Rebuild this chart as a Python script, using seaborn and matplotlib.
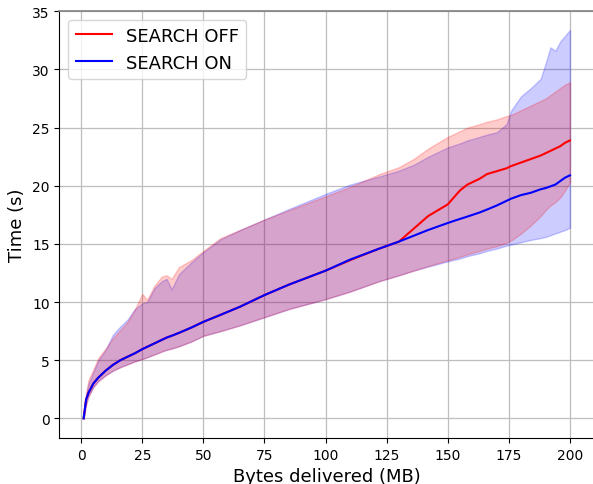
import numpy as np
import pandas as pd
import matplotlib
matplotlib.use("Agg")
import matplotlib.pyplot as plt
import seaborn as sns

x_mb = [1, 2, 3, 5, 7, 10, 13, 16, 19, 22, 25, 27, 30, 33, 35, 37, 40, 45, 50, 57,
        65, 75, 85, 100, 110, 122, 130, 136, 142, 150, 155, 158, 163, 166, 170, 174, 176, 180,
        184, 188, 190, 192, 194, 196, 198, 200]

off_mean = [0, 1.6, 2.2, 3.0, 3.5, 4.1, 4.6, 5.0, 5.3, 5.6, 5.95, 6.15, 6.45, 6.75, 6.95, 7.1,
            7.35, 7.8, 8.3, 8.9, 9.6, 10.6, 11.5, 12.7, 13.6, 14.6, 15.2, 16.3, 17.4, 18.4,
            19.6, 20.1, 20.6, 21.0, 21.25, 21.5, 21.7, 22.0, 22.3, 22.6, 22.8, 23.0, 23.2, 23.4, 23.7, 23.9]
on_mean = [0, 1.6, 2.2, 3.0, 3.5, 4.1, 4.6, 5.0, 5.3, 5.6, 5.95, 6.15, 6.45, 6.75, 6.95, 7.1,
           7.35, 7.8, 8.3, 8.9, 9.6, 10.6, 11.5, 12.7, 13.65, 14.6, 15.2, 15.7, 16.2, 16.8,
           17.15, 17.35, 17.7, 17.95, 18.3, 18.7, 18.9, 19.2, 19.4, 19.7, 19.8, 19.95, 20.1, 20.4, 20.7, 20.9]

off_upper = [0, 2.2, 3.3, 4.2, 5.2, 6.0, 6.9, 7.6, 8.3, 9.4, 10.7, 10.2, 11.4, 12.2, 12.3, 12.0,
             13.0, 13.6, 14.4, 15.5, 16.2, 17.1, 17.9, 19.1, 19.9, 21.0, 21.6, 22.3, 23.2, 24.2,
             24.7, 25.0, 25.3, 25.5, 25.7, 26.0, 26.1, 26.5, 26.9, 27.3, 27.5, 27.8, 28.1, 28.4, 28.7, 28.9]
on_upper = [0, 2.0, 3.0, 4.0, 5.0, 5.9, 7.2, 7.9, 8.5, 9.4, 9.9, 10.0, 11.2, 11.8, 12.0, 11.1,
            12.4, 13.4, 14.3, 15.4, 16.2, 17.1, 18.0, 19.3, 20.1, 20.8, 21.3, 21.8, 22.5, 23.3,
            23.65, 23.9, 24.2, 24.4, 24.6, 25.3, 26.5, 27.7, 28.4, 29.2, 30.5, 31.9, 31.6, 32.4, 32.9, 33.4]

off_lower = [0, 1.2, 1.9, 2.7, 3.2, 3.7, 4.1, 4.4, 4.65, 4.9, 5.1, 5.25, 5.5, 5.75, 5.9, 6.0,
             6.2, 6.6, 7.1, 7.5, 8.0, 8.7, 9.4, 10.25, 10.9, 11.8, 12.3, 12.7, 13.1, 13.6,
             13.9, 14.1, 14.4, 14.6, 14.8, 15.1, 15.3, 15.9, 16.6, 17.4, 17.9, 18.3, 18.6, 19.0, 19.6, 20.3]
on_lower = [0, 1.2, 1.9, 2.7, 3.2, 3.7, 4.1, 4.4, 4.65, 4.9, 5.1, 5.25, 5.5, 5.75, 5.9, 6.0,
            6.2, 6.6, 7.1, 7.5, 8.0, 8.7, 9.4, 10.25, 10.9, 11.8, 12.3, 12.7, 13.05, 13.5,
            13.75, 13.95, 14.2, 14.4, 14.6, 14.85, 14.95, 15.15, 15.35, 15.5, 15.6, 15.75, 15.9, 16.05, 16.2, 16.4]

labels = ["SEARCH OFF", "SEARCH ON"]
colors = ["red", "blue"]

df = pd.DataFrame({
    "x": x_mb * 2,
    "t": off_mean + on_mean,
    "mode": [labels[0]] * len(x_mb) + [labels[1]] * len(x_mb),
})

fig = plt.figure(figsize=(5.93, 4.85), dpi=100)
ax = fig.add_axes([59.3 / 593, 1 - 438.8 / 485, (594.3 - 59.3) / 593, (438.8 - 11.5) / 485])

ax.fill_between(x_mb, on_lower, on_upper, color="blue", alpha=0.2, zorder=1)
ax.fill_between(x_mb, off_lower, off_upper, color="red", alpha=0.2, zorder=1.1)

sns.lineplot(data=df, x="x", y="t", hue="mode", palette=colors, hue_order=labels,
             linewidth=1.5, ax=ax, zorder=3)

ax.set_xlim(-8.95, 209.95)
ax.set_ylim(-1.67, 35.07)
ax.set_xticks([0, 25, 50, 75, 100, 125, 150, 175, 200])
ax.set_yticks([0, 5, 10, 15, 20, 25, 30, 35])
ax.tick_params(labelsize=10)
ax.grid(True, color="#bdbdbd", linewidth=0.9)
ax.set_axisbelow(True)
ax.spines["right"].set_visible(False)
ax.spines["top"].set_color("#808080")
ax.spines["top"].set_linewidth(1.2)
ax.set_xlabel("Bytes delivered (MB)", fontsize=13)
ax.set_ylabel("Time (s)", fontsize=13)
ax.legend(loc="upper left", fontsize=13, title=None)

fig.savefig("out.png", dpi=100)
